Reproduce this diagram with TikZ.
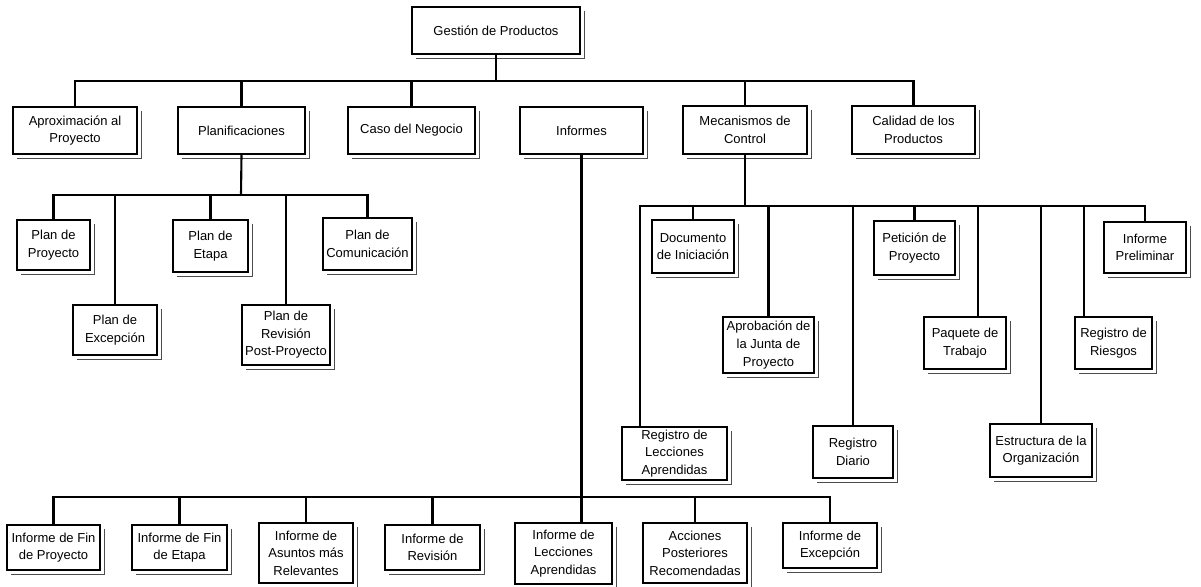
\documentclass[tikz,border=0pt]{standalone}
\usepackage{fontspec}
\setmainfont{Liberation Sans}

\tikzset{
  boxsize/.style 2 args={minimum width=#1*0.02cm, minimum height=#2*0.02cm},
}

\begin{document}
\begin{tikzpicture}[
  x=0.02cm, y=-0.02cm,
  box/.style={draw, line width=1.4pt, fill=white, align=center, inner sep=1pt,
              font=\fontsize{7.4}{10}\selectfont},
  link/.style={line width=1.2pt},
  shade/.style={line width=0.5pt, black!70},
]
  \useasboundingbox (0,0) rectangle (1201,586);

  % Root
  \node[box, boxsize={168}{47}] (root) at (496,30.5) {Gestión de Productos};

  % First level
  \node[box, boxsize={124}{47}] (aprox)    at (75,130.5)    {Aproximación al\\Proyecto};
  \node[box, boxsize={127}{47}] (planif)   at (241.5,130.5) {Planificaciones};
  \node[box, boxsize={127}{47}] (caso)     at (411.5,130.5) {Caso del Negocio};
  \node[box, boxsize={123}{47}] (informes) at (581.5,130.5) {Informes};
  \node[box, boxsize={124}{48}] (mecan)    at (745,130)     {Mecanismos de\\Control};
  \node[box, boxsize={123}{48}] (calidad)  at (913.5,130)   {Calidad de los\\Productos};

  % Plans
  \node[box, boxsize={73}{50}] (pproy)  at (53.5,245)  {Plan de\\Proyecto};
  \node[box, boxsize={84}{50}] (pexcep) at (115,330)   {Plan de\\Excepción};
  \node[box, boxsize={75}{52}] (petapa) at (210.5,246) {Plan de\\Etapa};
  \node[box, boxsize={88}{60}] (previs) at (286,335)   {Plan de\\Revisión\\Post-Proyecto};
  \node[box, boxsize={89}{52}] (pcomun) at (367.5,244) {Plan de\\Comunicación};

  % Control mechanisms
  \node[box, boxsize={105}{53}] (reglec)  at (674.5,453.5) {Registro de\\Lecciones\\Aprendidas};
  \node[box, boxsize={82}{53}]  (docini)  at (693,246.5)   {Documento\\de Iniciación};
  \node[box, boxsize={91}{56}]  (aprob)   at (768.5,345)   {Aprobación de\\la Junta de\\Proyecto};
  \node[box, boxsize={80}{52}]  (regdia)  at (853,452)     {Registro\\Diario};
  \node[box, boxsize={81}{54}]  (petic)   at (914.5,248)   {Petición de\\Proyecto};
  \node[box, boxsize={82}{52}]  (paquete) at (965,343)     {Paquete de\\Trabajo};
  \node[box, boxsize={102}{53}] (estruc)  at (1041,450.5)  {Estructura de la\\Organización};
  \node[box, boxsize={77}{52}]  (regries) at (1113.5,343)  {Registro de\\Riesgos};
  \node[box, boxsize={82}{51}]  (infprel) at (1145,247.5)  {Informe\\Preliminar};

  % Reports
  \node[box, boxsize={93}{45}]  (ifproy)   at (53.5,547.5)  {Informe de Fin\\de Proyecto};
  \node[box, boxsize={95}{45}]  (ifetapa)  at (179.5,547.5) {Informe de Fin\\de Etapa};
  \node[box, boxsize={94}{60}]  (iasuntos) at (306,553)     {Informe de\\Asuntos más\\Relevantes};
  \node[box, boxsize={95}{45}]  (irevis)   at (432.5,547.5) {Informe de\\Revisión};
  \node[box, boxsize={97}{61}]  (ilecc)    at (563.5,553.5) {Informe de\\Lecciones\\Aprendidas};
  \node[box, boxsize={104}{60}] (iaccion)  at (695,553)     {Acciones\\Posteriores\\Recomendadas};
  \node[box, boxsize={94}{45}]  (iexcep)   at (830,545.5)   {Informe de\\Excepción};

  % Shadows
  \foreach \n in {root, aprox, planif, caso, informes, mecan, calidad,
                  pproy, pexcep, petapa, previs, pcomun,
                  reglec, docini, aprob, regdia, petic, paquete, estruc, regries, infprel,
                  ifproy, ifetapa, iasuntos, irevis, ilecc, iaccion, iexcep}
    \draw[shade] ([xshift=0.07cm, yshift=-0.1cm]\n.north east)
      |- ([xshift=0.1cm, yshift=-0.07cm]\n.south west);

  % Buses
  \coordinate (bus1) at (496,81);
  \coordinate (bus2) at (241,195);
  \coordinate (bus3) at (746,206);
  \coordinate (bus4) at (581,497);

  \draw[link] (root.south) -- (bus1);
  \draw[link] (aprox.north) |- (calidad.north |- bus1) -- (calidad.north);
  \foreach \n in {planif, caso, mecan}
    \draw[link] (\n.north) -- (\n.north |- bus1);

  \draw[link] (planif.south) -- (bus2);
  \draw[link] (pproy.north) |- (pcomun.north |- bus2) -- (pcomun.north);
  \foreach \n in {pexcep, petapa, previs}
    \draw[link] (\n.north) -- (\n.north |- bus2);

  \draw[link] (mecan.south) -- (mecan.south |- bus3);
  \draw[link] ([xshift=-0.69cm]reglec.north) |- (infprel.north |- bus3) -- (infprel.north);
  \foreach \n in {docini, aprob, regdia, petic, estruc}
    \draw[link] (\n.north) -- (\n.north |- bus3);
  \draw[link] ([xshift=0.26cm]paquete.north) -- ([xshift=0.26cm]paquete.north |- bus3);
  \draw[link] ([xshift=-0.59cm]regries.north) -- ([xshift=-0.59cm]regries.north |- bus3);

  \draw[link] (informes.south) -- (informes.south |- ilecc.north);
  \draw[link] (ifproy.north) |- (iexcep.north |- bus4) -- (iexcep.north);
  \foreach \n in {ifetapa, iasuntos, irevis, iaccion}
    \draw[link] (\n.north) -- (\n.north |- bus4);
\end{tikzpicture}
\end{document}
